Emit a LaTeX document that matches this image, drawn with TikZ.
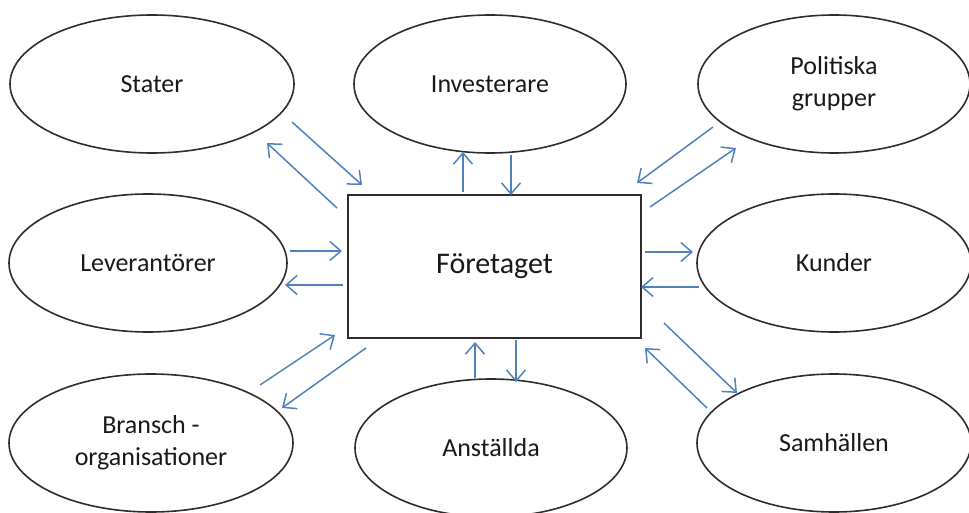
\documentclass[tikz,border=0pt]{standalone}
\usepackage{fontspec}
\setmainfont{Carlito}
\usetikzlibrary{shapes.geometric,arrows.meta}
\definecolor{arrowblue}{RGB}{79,129,189}
\definecolor{edgegray}{RGB}{45,45,45}
\definecolor{textdark}{RGB}{25,25,25}
\tikzset{
  party/.style={ellipse, draw=edgegray, line width=1.6pt, inner sep=0pt,
    minimum height=138pt, text=textdark, align=center,
    font=\fontsize{26}{32}\selectfont},
  mainbox/.style={rectangle, draw=edgegray, line width=1.6pt, inner sep=0pt,
    text=textdark, font=\fontsize{30}{36}\selectfont},
  flow/.style={draw=arrowblue, line width=1.5pt,
    -{Straight Barb[length=11pt,width=19pt,line width=1.5pt]}}
}
\begin{document}
\begin{tikzpicture}[x=1pt,y=-1pt]
\useasboundingbox (0,0) rectangle (969,513);
\begin{scope}
\clip (0,0) rectangle (969,513);
\node[party, minimum width=284pt] (stater) at (152,84) {Stater};
\node[party, minimum width=272pt] (inv) at (490,84) {Investerare};
\node[party, minimum width=272pt] (pol) at (834,84) {Politiska\\grupper};
\node[party, minimum width=278pt] (lev) at (148,263) {Leverantörer};
\node[party, minimum width=274pt] (kun) at (834,263) {Kunder};
\node[party, minimum width=284pt] (bra) at (151,443) {Bransch -\\organisationer};
\node[party, minimum width=272pt] (ans) at (491,448) {Anställda};
\node[party, minimum width=274pt] (sam) at (834,443) {Samhällen};
\end{scope}
\node[mainbox, minimum width=293pt, minimum height=143pt] (fore) at (494.5,266.5) {Företaget};

% arrow end points
\coordinate (a1s) at (292,122); \coordinate (a1e) at (362,185);
\coordinate (a2s) at (337,208); \coordinate (a2e) at (267,143);
\coordinate (a3s) at (463,192); \coordinate (a3e) at (463,152);
\coordinate (a4s) at (511,155); \coordinate (a4e) at (511,195);
\coordinate (a5s) at (713,127); \coordinate (a5e) at (637,183);
\coordinate (a6s) at (650,207); \coordinate (a6e) at (736,148);
\coordinate (a7s) at (290,251); \coordinate (a7e) at (342,251);
\coordinate (a8s) at (343,285); \coordinate (a8e) at (285,285);
\coordinate (a9s) at (645,252); \coordinate (a9e) at (693,252);
\coordinate (a10s) at (699,287); \coordinate (a10e) at (641,287);
\coordinate (a11s) at (260,385); \coordinate (a11e) at (335,335);
\coordinate (a12s) at (366,348); \coordinate (a12e) at (282,408);
\coordinate (a13s) at (475,378); \coordinate (a13e) at (475,342);
\coordinate (a14s) at (516,340); \coordinate (a14e) at (516,382);
\coordinate (a15s) at (664,323); \coordinate (a15e) at (737,393);
\coordinate (a16s) at (707,408); \coordinate (a16e) at (645,348);

\foreach \i in {1,...,16} {
  \draw[flow] (a\i s) -- (a\i e);
}
\end{tikzpicture}
\end{document}
